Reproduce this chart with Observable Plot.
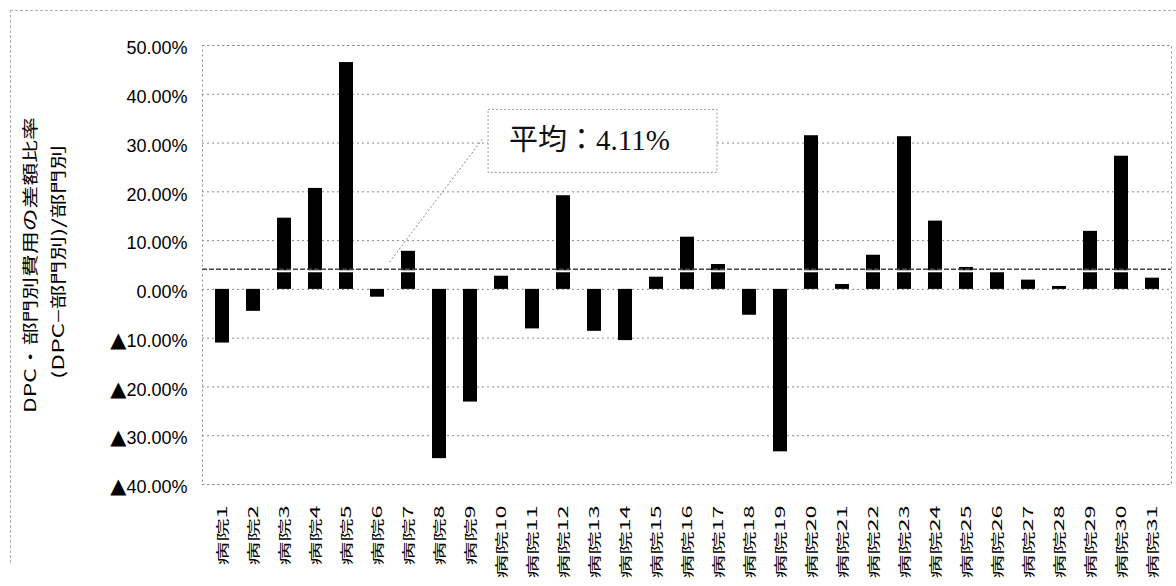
<!DOCTYPE html>
<html><head><meta charset="utf-8">
<script src="https://cdn.jsdelivr.net/npm/d3@7"></script>
<script src="https://cdn.jsdelivr.net/npm/@observablehq/plot@0.6"></script>
<style>
body{margin:0;background:#fff;}
#wrap{position:relative;width:1176px;height:586px;overflow:hidden;}
#border{position:absolute;left:10px;top:10px;width:1180px;height:552px;border-top:1px dashed #b0b0b0;border-left:1px dashed #b0b0b0;pointer-events:none;}
</style></head><body><div id="wrap"><div id="border"></div></div>
<script>
const hospitals = ["病院1","病院2","病院3","病院4","病院5","病院6","病院7","病院8","病院9","病院10",
  "病院11","病院12","病院13","病院14","病院15","病院16","病院17","病院18","病院19","病院20",
  "病院21","病院22","病院23","病院24","病院25","病院26","病院27","病院28","病院29","病院30","病院31"];
const ratios = [-11.0,-4.5,14.6,20.7,46.5,-1.6,7.8,-34.7,-23.1,2.7,
  -8.1,19.2,-8.6,-10.5,2.5,10.7,5.1,-5.3,-33.3,31.5,
  1.0,7.0,31.3,14.0,4.5,3.7,1.9,0.6,11.9,27.3,2.3];
const meanRatio = 4.11;
const meanLabel = "平均：4.11%";
const yTicks = [-40,-30,-20,-10,0,10,20,30,40,50];
const yTitle1 = "DPC・部門別費用の差額比率";
const yTitle2 = "(DPC−部門別)/部門別";

const data = hospitals.map((h, i) => ({hospital: h, ratio: ratios[i]}));
const leader = [{x1: hospitals[5], x2: hospitals[8], y1: 5.6, y2: 30.8}];
const note = [{x: hospitals[12], y: 30.4, label: meanLabel}];
const fmt = v => (v < 0 ? "▲" : "") + Math.abs(v).toFixed(2) + "%";
const dotted = {stroke: "#8a8a8a", strokeOpacity: 1, strokeDasharray: "2,3"};
const cjk = "'Noto Sans CJK JP', 'Liberation Sans', sans-serif";

const plot = Plot.plot({
  width: 1176, height: 586,
  marginLeft: 202, marginRight: 5, marginTop: 45, marginBottom: 102,
  style: {fontFamily: "'Liberation Sans', Arial, sans-serif", background: "transparent", color: "#000"},
  x: {domain: hospitals, paddingInner: 0.56, paddingOuter: 0.28, label: null},
  y: {domain: [-40, 50], label: null},
  marks: [
    Plot.gridY(yTicks, dotted),
    Plot.frame(dotted),
    Plot.barY(data, {x: "hospital", y: "ratio", fill: "#000"}),
    Plot.ruleY([meanRatio], {stroke: "#fff", strokeWidth: 2, dy: 2}),
    Plot.ruleY([meanRatio], {stroke: "#444", strokeWidth: 1.5, strokeDasharray: "5,2"}),
    Plot.link(leader, {x1: "x1", x2: "x2", y1: "y1", y2: "y2", dx: 12, stroke: "#888", strokeWidth: 1, strokeDasharray: "2,2"}),
    Plot.text(note, {x: "x", y: "y", text: "label", dx: -5, fontSize: 29, fill: "#111",
      fontFamily: "'Liberation Serif', 'Noto Sans CJK JP', serif"}),
    Plot.axisY(yTicks, {tickSize: 0, tickPadding: 15, tickFormat: fmt, fontSize: 18, dy: 3, fill: "#000"}),
    Plot.axisX({tickSize: 0, tickRotate: -90, tickPadding: 21, fontSize: 13, fontFamily: cjk, fill: "#000"}),
    Plot.text([yTitle1], {frameAnchor: "left", textAnchor: "middle", dx: -172, rotate: -90, fontSize: 16, fontFamily: cjk, fill: "#000"}),
    Plot.text([yTitle2], {frameAnchor: "left", textAnchor: "middle", dx: -144, dy: -3, rotate: -90, fontSize: 16, fontFamily: cjk, fill: "#000"})
  ]
});
document.getElementById("wrap").appendChild(plot);

function stretchTo(el, target) {
  const len = el.getComputedTextLength();
  const tr = el.getAttribute("transform") || "";
  el.setAttribute("transform", tr + ` scale(${target / len},1)`);
}
const svg = d3.select(plot);
svg.selectAll("text").each(function() {
  const t = this.textContent;
  if (t.startsWith("病院")) {
    const tr = this.getAttribute("transform") || "";
    this.setAttribute("transform", tr + " scale(1.8,1)");
  } else if (t === yTitle1) {
    stretchTo(this, 296);
  } else if (t === yTitle2) {
    stretchTo(this, 234);
  } else if (t.startsWith("▲")) {
    const rest = t.slice(1);
    const el = d3.select(this);
    el.text(null);
    el.append("tspan").attr("font-size", 21).attr("font-family", "'DejaVu Sans', sans-serif").text("▲");
    el.append("tspan").text(rest);
  } else if (t === meanLabel) {
    const bb = this.getBBox();
    const p = this.parentNode;
    const cy = bb.y + bb.height / 2;
    d3.select(p).insert("rect", ":first-child")
      .attr("transform", this.getAttribute("transform"))
      .attr("x", bb.x - 21).attr("y", cy - 31)
      .attr("width", bb.width + 68).attr("height", 63)
      .attr("fill", "#fff").attr("stroke", "#999").attr("stroke-dasharray", "2,2");
  }
});
</script>
</body></html>
